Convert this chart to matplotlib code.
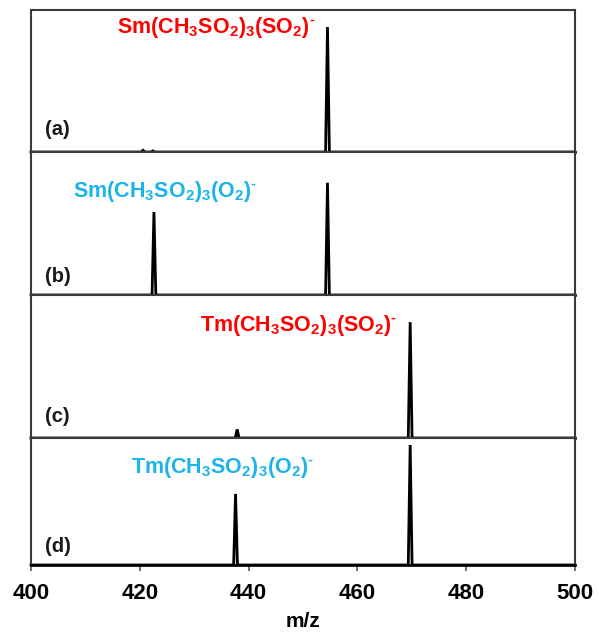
import matplotlib
matplotlib.use("Agg")
import matplotlib.pyplot as plt
from matplotlib.transforms import blended_transform_factory

plt.rcParams['font.family'] = ['Liberation Sans', 'DejaVu Sans']
plt.rcParams['mathtext.fontset'] = 'custom'
plt.rcParams['mathtext.rm'] = 'Liberation Sans:bold'
plt.rcParams['mathtext.bf'] = 'Liberation Sans:bold'
plt.rcParams['mathtext.it'] = 'Liberation Sans:bold'
plt.rcParams['mathtext.default'] = 'bf'

# ---- data (m/z of peak centres and relative heights) ----
panel_tags = ['(a)', '(b)', '(c)', '(d)']
species = ['Sm(CH$_3$SO$_2$)$_3$(SO$_2$)$^{\u2010}$',
           'Sm(CH$_3$SO$_2$)$_3$(O$_2$)$^{\u2010}$',
           'Tm(CH$_3$SO$_2$)$_3$(SO$_2$)$^{\u2010}$',
           'Tm(CH$_3$SO$_2$)$_3$(O$_2$)$^{\u2010}$']
species_colors = ['#FF0000', '#1AB4E8', '#FF0000', '#1AB4E8']
peaks_a_mz = [420.6, 422.4, 454.5]
peaks_a_int = [0.012, 0.008, 0.88]
peaks_b_mz = [422.6, 454.5]
peaks_b_int = [0.58, 0.785]
peaks_c_mz = [437.9, 469.7]
peaks_c_int = [0.06, 0.81]
peaks_d_mz = [437.6, 469.7]
peaks_d_int = [0.56, 0.945]
xticks = [400, 420, 440, 460, 480, 500]

panels = [(peaks_a_mz, peaks_a_int), (peaks_b_mz, peaks_b_int),
          (peaks_c_mz, peaks_c_int), (peaks_d_mz, peaks_d_int)]

W, H = 599, 634
fig = plt.figure(figsize=(W / 100, H / 100), dpi=100)

left, right = 31 / W, 575 / W
bounds_px = [(10, 152), (152, 295), (295, 438), (438, 565)]
label_x = [415.8, 407.7, 431.1, 418.4]
label_y = [0.88, 0.727, 0.79, 0.764]
tag_y = [0.155, 0.126, 0.147, 0.142]

half_w = 0.35  # peak half-width at base (style)

for i, ((mz, inten), (top, bot)) in enumerate(zip(panels, bounds_px)):
    ax = fig.add_axes([left, 1 - bot / H, right - left, (bot - top) / H])
    xs, ys = [400.0], [0.0]
    for c, h in sorted(zip(mz, inten)):
        xs += [c - half_w, c, c + half_w]
        ys += [0.0, h, 0.0]
    xs.append(500.0)
    ys.append(0.0)
    ax.plot(xs, ys, color='black', lw=2.0, solid_joinstyle='miter', clip_on=False)
    ax.set_xlim(400, 500)
    ax.set_ylim(0, 1)
    ax.set_yticks([])
    for s in ax.spines.values():
        s.set_color('#3a3a3a')
        s.set_linewidth(1.5)
    ax.spines['bottom'].set_color('black')
    ax.spines['bottom'].set_linewidth(1.8)
    if i < 3:
        ax.set_xticks([])
    else:
        ax.set_xticks(xticks)
        ax.set_xticklabels([str(t) for t in xticks], fontsize=16, fontweight='bold')
        ax.tick_params(axis='x', direction='out', length=4, width=1.2, pad=9, color='#555555')
        ax.set_xlabel('m/z', fontsize=15, fontweight='bold', labelpad=6)
    tr = blended_transform_factory(ax.transData, ax.transAxes)
    ax.text(label_x[i], label_y[i], species[i], transform=tr, color=species_colors[i],
            fontsize=15.5, fontweight='bold', ha='left', va='center')
    ax.text(402.6, tag_y[i], panel_tags[i], transform=tr, color='#1a1a1a',
            fontsize=14.5, fontweight='bold', ha='left', va='center')

fig.savefig('out.png', dpi=100)
